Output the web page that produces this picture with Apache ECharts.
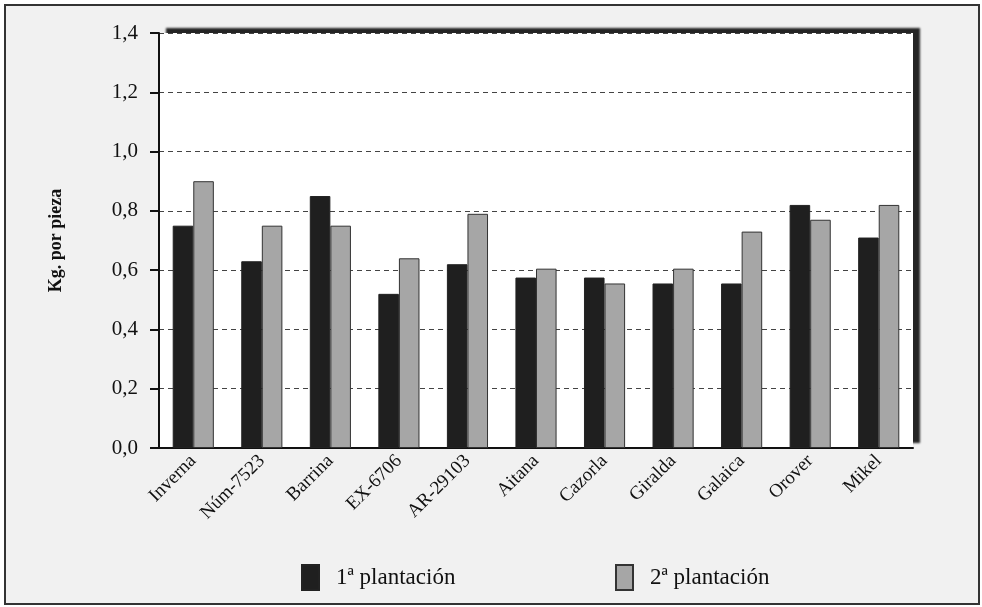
<!DOCTYPE html>
<html>
<head>
<meta charset="utf-8">
<script src="https://cdn.jsdelivr.net/npm/echarts@6/dist/echarts.min.js"></script>
<style>
  html, body { margin: 0; padding: 0; background: #ffffff; }
  #chart { width: 982px; height: 607px; }
</style>
</head>
<body>
<div id="chart"></div>
<script>
  // datos
  const variedades = ['Inverna', 'Núm-7523', 'Barrina', 'EX-6706', 'AR-29103', 'Aitana', 'Cazorla', 'Giralda', 'Galaica', 'Orover', 'Mikel'];
  const plantacion1 = [0.75, 0.63, 0.85, 0.52, 0.62, 0.575, 0.575, 0.555, 0.555, 0.82, 0.71];
  const plantacion2 = [0.90, 0.75, 0.75, 0.64, 0.79, 0.605, 0.555, 0.605, 0.73, 0.77, 0.82];
  const nombres = ['1ª plantación', '2ª plantación'];

  const fuente = 'Liberation Serif';
  let chart = echarts.init(document.getElementById('chart'));

  chart.setOption({
    animation: false,
    textStyle: { fontFamily: fuente, color: '#111' },
    graphic: [{
      type: 'rect',
      z: -100,
      shape: { x: 5, y: 5, width: 974, height: 599 },
      style: { fill: '#f1f1f1', stroke: '#333', lineWidth: 2 }
    }],
    legend: [
      {
        data: [nombres[0]],
        icon: 'rect',
        left: 296, top: 559,
        itemWidth: 17, itemHeight: 25,
        textStyle: { fontFamily: fuente, fontSize: 23, color: '#111', padding: [0, 0, 0, 12] }
      },
      {
        data: [nombres[1]],
        icon: 'rect',
        left: 610, top: 559,
        itemWidth: 17, itemHeight: 25,
        textStyle: { fontFamily: fuente, fontSize: 23, color: '#111', padding: [0, 0, 0, 12] }
      }
    ],
    grid: {
      left: 159, right: 69, top: 33, bottom: 159,
      show: true,
      backgroundColor: '#ffffff',
      borderWidth: 0,
      shadowColor: 'rgba(0,0,0,0.85)',
      shadowBlur: 2,
      shadowOffsetX: 7,
      shadowOffsetY: -5
    },
    xAxis: {
      type: 'category',
      data: variedades,
      axisLine: { lineStyle: { color: '#111', width: 2 } },
      axisTick: { length: 8, lineStyle: { color: '#111', width: 2 } },
      axisLabel: { rotate: 45, fontSize: 19, color: '#111', margin: 10, fontFamily: fuente }
    },
    yAxis: {
      type: 'value',
      min: 0, max: 1.4, interval: 0.2,
      name: 'Kg. por pieza',
      nameLocation: 'middle',
      nameRotate: 90,
      nameGap: 94,
      nameTextStyle: { fontFamily: fuente, fontSize: 18, fontWeight: 'bold', color: '#111' },
      axisLine: { show: true, lineStyle: { color: '#111', width: 2 } },
      axisTick: { show: true, length: 9, lineStyle: { color: '#111', width: 2 } },
      axisLabel: {
        fontSize: 21, color: '#111', margin: 21, fontFamily: fuente,
        formatter: v => v.toFixed(1).replace('.', ',')
      },
      splitLine: { lineStyle: { type: [5, 4], color: '#444', width: 1 } }
    },
    series: [
      {
        name: nombres[0],
        type: 'bar',
        data: plantacion1,
        barGap: '0%',
        barCategoryGap: '40%',
        itemStyle: { color: '#1f1f1f', borderColor: '#222', borderWidth: 1 }
      },
      {
        name: nombres[1],
        type: 'bar',
        data: plantacion2,
        itemStyle: { color: '#a6a6a6', borderColor: '#333', borderWidth: 1 }
      }
    ]
  });
</script>
</body>
</html>
